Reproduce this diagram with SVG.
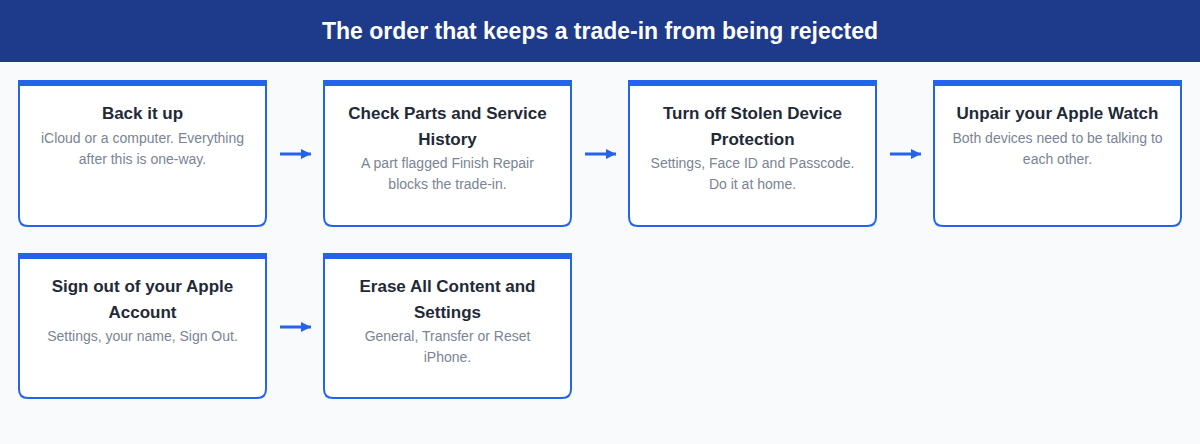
<svg xmlns="http://www.w3.org/2000/svg" width="1200" height="444" viewBox="0 0 1200 444">
<style>
.card{fill:#ffffff;stroke:#2563eb;stroke-width:2}
.bar{fill:#2563eb}
.t{font-family:"Liberation Sans",Arial,sans-serif;font-size:17px;font-weight:bold;fill:#1f2937;text-anchor:middle}
.d{font-family:"Liberation Sans",Arial,sans-serif;font-size:14px;fill:#7a8494;text-anchor:middle}
.h{font-family:"Liberation Sans",Arial,sans-serif;font-size:23px;font-weight:bold;fill:#ffffff;text-anchor:middle}
.c{stroke:#2563eb;stroke-width:3;fill:none}
</style>
<defs>
<marker id="ah" viewBox="0 0 10 10" refX="10" refY="5" markerWidth="10" markerHeight="10" markerUnits="userSpaceOnUse" orient="auto">
<path d="M0,0 L10,5 L0,10 Z" fill="#2563eb"/>
</marker>
</defs>
<rect width="1200" height="444" fill="#f8fafc"/>
<g id="header">
<rect x="0" y="0" width="1200" height="62" fill="#1e3a8a"/>
<text class="h" x="600" y="39">The order that keeps a trade-in from being rejected</text>
</g>
<g id="connectors">
<line class="c" x1="280" y1="154" x2="311" y2="154" marker-end="url(#ah)"/>
<line class="c" x1="585" y1="154" x2="616" y2="154" marker-end="url(#ah)"/>
<line class="c" x1="890" y1="154" x2="921" y2="154" marker-end="url(#ah)"/>
<line class="c" x1="280" y1="327" x2="311" y2="327" marker-end="url(#ah)"/>
</g>
<g id="node1">
<path class="card" d="M19,81 H266 V217 Q266,226 257,226 H28 Q19,226 19,217 Z"/>
<rect class="bar" x="18" y="80" width="249" height="6"/>
<text class="t" x="142.5" y="119">Back it up</text>
<text class="d" x="142.5" y="143">iCloud or a computer. Everything</text>
<text class="d" x="142.5" y="164">after this is one-way.</text>
</g>
<g id="node2">
<path class="card" d="M324,81 H571 V217 Q571,226 562,226 H333 Q324,226 324,217 Z"/>
<rect class="bar" x="323" y="80" width="249" height="6"/>
<text class="t" x="447.5" y="119">Check Parts and Service</text>
<text class="t" x="447.5" y="144.5">History</text>
<text class="d" x="447.5" y="168">A part flagged Finish Repair</text>
<text class="d" x="447.5" y="189">blocks the trade-in.</text>
</g>
<g id="node3">
<path class="card" d="M629,81 H876 V217 Q876,226 867,226 H638 Q629,226 629,217 Z"/>
<rect class="bar" x="628" y="80" width="249" height="6"/>
<text class="t" x="752.5" y="119">Turn off Stolen Device</text>
<text class="t" x="752.5" y="144.5">Protection</text>
<text class="d" x="752.5" y="168">Settings, Face ID and Passcode.</text>
<text class="d" x="752.5" y="189">Do it at home.</text>
</g>
<g id="node4">
<path class="card" d="M934,81 H1181 V217 Q1181,226 1172,226 H943 Q934,226 934,217 Z"/>
<rect class="bar" x="933" y="80" width="249" height="6"/>
<text class="t" x="1057.5" y="119">Unpair your Apple Watch</text>
<text class="d" x="1057.5" y="143">Both devices need to be talking to</text>
<text class="d" x="1057.5" y="164">each other.</text>
</g>
<g id="node5">
<path class="card" d="M19,254 H266 V389 Q266,398 257,398 H28 Q19,398 19,389 Z"/>
<rect class="bar" x="18" y="253" width="249" height="6"/>
<text class="t" x="142.5" y="292">Sign out of your Apple</text>
<text class="t" x="142.5" y="317.5">Account</text>
<text class="d" x="142.5" y="341">Settings, your name, Sign Out.</text>
</g>
<g id="node6">
<path class="card" d="M324,254 H571 V389 Q571,398 562,398 H333 Q324,398 324,389 Z"/>
<rect class="bar" x="323" y="253" width="249" height="6"/>
<text class="t" x="447.5" y="292">Erase All Content and</text>
<text class="t" x="447.5" y="317.5">Settings</text>
<text class="d" x="447.5" y="341">General, Transfer or Reset</text>
<text class="d" x="447.5" y="362">iPhone.</text>
</g>
</svg>
